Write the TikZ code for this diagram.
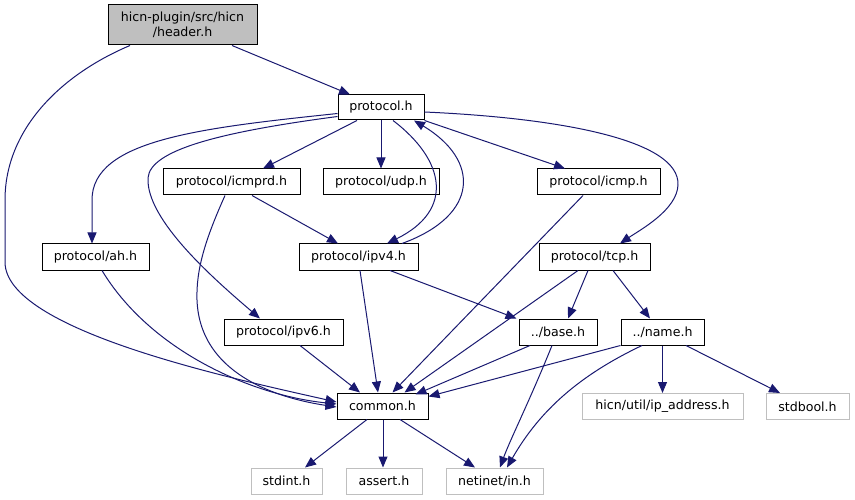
\documentclass[tikz,border=0pt]{standalone}
\usepackage{fontspec}
\setmainfont{DejaVu Sans}
\usetikzlibrary{arrows.meta}
\definecolor{edgeblue}{HTML}{191970}
\definecolor{lgray}{HTML}{BFBFBF}
\tikzset{
  box/.style={draw=black, line width=1pt, fill=white, inner sep=0pt, minimum height=26pt, font=\fontsize{12.6}{15}\selectfont, align=center},
  extbox/.style={box, draw=lgray},
  curbox/.style={box, fill=lgray},
  edge/.style={draw=edgeblue, line width=1pt, -{Triangle[length=11pt,width=9pt]}},
}
\begin{document}
\begin{tikzpicture}[x=1pt,y=-1pt]
\useasboundingbox (0,0) rectangle (855,500);
% nodes
\node[curbox, minimum width=149pt, minimum height=40pt] (header) at (182.5,25) {hicn-plugin/src/hicn\\/header.h};
\node[box, minimum width=86pt, minimum height=25pt] (proto) at (381,107.5) {protocol.h};
\node[box, minimum width=137pt] (icmprd) at (231.5,182) {protocol/icmprd.h};
\node[box, minimum width=116pt] (udp) at (381,182) {protocol/udp.h};
\node[box, minimum width=123pt] (icmp) at (598.5,182) {protocol/icmp.h};
\node[box, minimum width=107pt] (ah) at (95.5,257) {protocol/ah.h};
\node[box, minimum width=119pt] (ipv4) at (358.5,257) {protocol/ipv4.h};
\node[box, minimum width=111pt] (tcp) at (594.5,257) {protocol/tcp.h};
\node[box, minimum width=119pt] (ipv6) at (283.5,332) {protocol/ipv6.h};
\node[box, minimum width=78pt] (base) at (558,332) {../base.h};
\node[box, minimum width=83pt] (name) at (662.5,332) {../name.h};
\node[box, minimum width=91pt] (common) at (382.5,406) {common.h};
\node[extbox, minimum width=161pt] (ipaddr) at (662.5,406.5) {hicn/util/ip\_address.h};
\node[extbox, minimum width=83pt] (stdbool) at (807.5,406.5) {stdbool.h};
\node[extbox, minimum width=71pt] (stdint) at (286.5,481) {stdint.h};
\node[extbox, minimum width=76pt] (assert) at (384,481) {assert.h};
\node[extbox, minimum width=97pt] (netinet) at (494.5,481) {netinet/in.h};
% edges
\draw[edge] ([xshift=49.5pt]header.south) -- ([xshift=-31pt]proto.north);
\draw[edge] ([xshift=-52.5pt]header.south) .. controls (60,75) and (5,130) .. (5,200) -- (5,262) .. controls (5,330) and (230,378) .. ([yshift=4pt]common.west);
\draw[edge] ([yshift=-6pt]proto.west) .. controls (200,128) and (92,140) .. (92,200) -- ([xshift=-3.5pt]ah.north);
\draw[edge] ([yshift=-9pt]proto.west) .. controls (220,132) and (150,150) .. (148,178) .. controls (146,220) and (215,280) .. ([xshift=-23.5pt]ipv6.north);
\draw[edge] ([xshift=-24pt]proto.south) -- ([xshift=31.5pt]icmprd.north);
\draw[edge] (proto.south) -- (udp.north);
\draw[edge] ([xshift=12pt]proto.south) .. controls (445,160) and (455,210) .. ([xshift=28.5pt]ipv4.north);
\draw[edge] ([xshift=43.5pt]ipv4.north) .. controls (480,215) and (480,160) .. ([xshift=33pt]proto.south);
\draw[edge] (proto.south east) -- ([xshift=-33.5pt]icmp.north);
\draw[edge] ([yshift=-4.5pt]proto.east) .. controls (560,118) and (680,140) .. (678,185) .. controls (677,210) and (640,230) .. ([xshift=25.5pt]tcp.north);
\draw[edge] ([xshift=20.5pt]icmprd.south) -- ([xshift=-20.5pt]ipv4.north);
\draw[edge] ([xshift=-6.5pt]icmprd.south) .. controls (205,240) and (196,270) .. (197,300) .. controls (200,380) and (290,400) .. ([yshift=-1pt]common.west);
\draw[edge] ([xshift=6.5pt]ah.south) .. controls (150,350) and (250,395) .. ([yshift=2pt]common.west);
\draw[edge] ([xshift=1.5pt]ipv4.south) -- ([xshift=-4.5pt]common.north);
\draw[edge] ([xshift=31.5pt]ipv4.south) -- ([xshift=-2pt]base.north west);
\draw[edge] ([xshift=16.5pt]ipv6.south) -- ([xshift=-22.5pt]common.north);
\draw[edge] ([xshift=-15.5pt]icmp.south) -- ([xshift=10pt]common.north);
\draw[edge] ([xshift=-16.5pt]tcp.south) -- ([xshift=22pt]common.north);
\draw[edge] ([xshift=-6.5pt]tcp.south) -- ([xshift=10pt]base.north);
\draw[edge] ([xshift=18.5pt]tcp.south) -- ([xshift=-12.5pt]name.north);
\draw[edge] ([xshift=-28pt]base.south) -- ([xshift=-13pt,yshift=-2pt]common.north east);
\draw[edge] ([xshift=-6pt]base.south) .. controls (530,400) and (510,440) .. ([xshift=5.5pt]netinet.north);
\draw[edge] (name.south west) -- ([yshift=-4pt]common.north east);
\draw[edge] ([xshift=-20.5pt]name.south) .. controls (580,375) and (540,410) .. ([xshift=12.5pt]netinet.north);
\draw[edge] (name.south) -- (ipaddr.north);
\draw[edge] ([xshift=23.5pt]name.south) -- ([xshift=-27.5pt]stdbool.north);
\draw[edge] ([xshift=-15.5pt]common.south) -- ([xshift=18.5pt]stdint.north);
\draw[edge] ([xshift=0.5pt]common.south) -- ([xshift=-1pt]assert.north);
\draw[edge] ([xshift=17.5pt]common.south) -- ([xshift=-19.5pt]netinet.north);
\end{tikzpicture}
\end{document}
